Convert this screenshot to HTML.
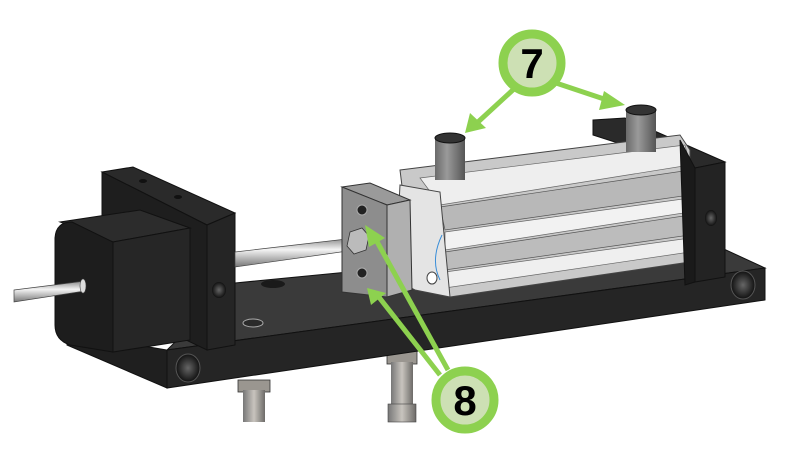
<!DOCTYPE html>
<html><head><meta charset="utf-8"><style>
html,body{margin:0;padding:0;background:#fff;width:793px;height:451px;overflow:hidden}
svg{display:block}
</style></head><body>
<svg width="793" height="451" viewBox="0 0 793 451" xmlns="http://www.w3.org/2000/svg">
<defs>
<linearGradient id="post" x1="0" x2="1"><stop offset="0" stop-color="#777"/><stop offset=".5" stop-color="#c8c4be"/><stop offset="1" stop-color="#6d6b68"/></linearGradient>
<linearGradient id="fit" x1="0" x2="1"><stop offset="0" stop-color="#6a6a6a"/><stop offset=".4" stop-color="#9a9a9a"/><stop offset="1" stop-color="#555"/></linearGradient>
<linearGradient id="rod" x1="0" y1="0" x2="0" y2="1"><stop offset="0" stop-color="#888"/><stop offset=".4" stop-color="#f4f4f4"/><stop offset="1" stop-color="#777"/></linearGradient>
<radialGradient id="hole"><stop offset="0" stop-color="#666"/><stop offset="1" stop-color="#111"/></radialGradient>
</defs>
<rect x="238" y="380" width="32" height="12" fill="#9a9690" stroke="#333" stroke-width=".8"/>
<rect x="243" y="390" width="22" height="32" fill="url(#post)"/>
<rect x="387" y="350" width="30" height="14" fill="#9a9690" stroke="#333" stroke-width=".8"/>
<rect x="391" y="362" width="22" height="42" fill="url(#post)"/>
<rect x="388" y="404" width="28" height="18" fill="url(#post)" stroke="#444" stroke-width=".6"/>
<polygon points="235,283 700,238 765,268 167,350" fill="#3a3a3a" stroke="#111" stroke-width="1"/>
<polygon points="167,350 765,268 765,300 167,388" fill="#252525" stroke="#111" stroke-width="1"/>
<polygon points="67,333 167,350 167,388 67,345" fill="#1f1f1f" stroke="#111"/>
<ellipse cx="188" cy="368" rx="12" ry="14" fill="url(#hole)" stroke="#555"/>
<ellipse cx="743" cy="285" rx="12" ry="14" fill="url(#hole)" stroke="#555"/>
<ellipse cx="273" cy="284" rx="12" ry="4" fill="#1a1a1a"/>
<ellipse cx="253" cy="323" rx="10" ry="4" fill="#2a2a2a" stroke="#aaa"/>
<polygon points="102,172 133,167 235,213 207,225" fill="#2a2a2a" stroke="#111"/>
<polygon points="102,172 207,225 207,350 102,300" fill="#1e1e1e" stroke="#111"/>
<polygon points="207,225 235,213 235,345 207,350" fill="#252525" stroke="#111"/>
<ellipse cx="219" cy="290" rx="7" ry="8" fill="url(#hole)"/>
<ellipse cx="143" cy="181" rx="4" ry="2" fill="#111"/>
<ellipse cx="178" cy="197" rx="4" ry="2" fill="#111"/>
<polygon points="60,222 140,210 190,228 113,242" fill="#2c2c2c" stroke="#111"/>
<polygon points="113,242 190,228 190,340 113,352" fill="#262626" stroke="#111"/>
<path d="M55,238 Q56,222 72,222 L113,242 L113,352 L70,345 Q55,340 55,325 Z" fill="#1d1d1d" stroke="#111"/>
<polygon points="14,290 85,281 85,291 14,302" fill="url(#rod)" stroke="#444" stroke-width=".7"/>
<ellipse cx="83" cy="286" rx="3" ry="7" fill="#ddd" stroke="#444" stroke-width=".6"/>
<polygon points="235,252 355,238 355,250 235,267" fill="url(#rod)" stroke="#444" stroke-width=".7"/>
<polygon points="593,120 625,118 725,162 695,168 593,135" fill="#2a2a2a" stroke="#111"/>
<polygon points="400,170 680,135 690,150 690,262 450,297 415,290" fill="#c9c9c9" stroke="#444"/>
<polygon points="420,178 685,145 690,165 440,205" fill="#eeeeee" stroke="#666" stroke-width=".7"/>
<polygon points="440,207 690,170 690,195 445,230" fill="#b8b8b8" stroke="#555" stroke-width=".7"/>
<polygon points="445,232 690,198 690,212 445,250" fill="#f2f2f2" stroke="#666" stroke-width=".7"/>
<polygon points="445,252 690,215 690,235 445,270" fill="#bcbcbc" stroke="#555" stroke-width=".7"/>
<polygon points="445,272 690,238 690,252 445,288" fill="#efefef" stroke="#666" stroke-width=".7"/>
<polygon points="400,185 440,192 450,297 415,290 395,280" fill="#e4e4e4" stroke="#444"/>
<path d="M442,235 Q430,260 440,280" stroke="#3a8ed8" fill="none" stroke-width="1"/>
<ellipse cx="432" cy="278" rx="5" ry="6" fill="#fff" stroke="#444"/>
<polygon points="695,168 725,162 725,277 695,282" fill="#232323" stroke="#111"/>
<polygon points="680,140 695,168 695,282 685,285" fill="#1a1a1a" stroke="#111"/>
<ellipse cx="711" cy="218" rx="6" ry="8" fill="url(#hole)"/>
<polygon points="342,187 370,183 410,200 387,205" fill="#9a9a9a" stroke="#333"/>
<polygon points="342,187 387,205 387,297 342,292" fill="#8d8d8d" stroke="#333"/>
<polygon points="387,205 410,200 412,290 387,297" fill="#b0b0b0" stroke="#333"/>
<circle cx="362" cy="210" r="5" fill="#222" stroke="#aaa"/>
<circle cx="362" cy="273" r="5" fill="#222" stroke="#aaa"/>
<polygon points="350,232 362,228 369,236 366,250 354,254 347,246" fill="#bbb" stroke="#333" stroke-width=".8"/>
<rect x="435" y="138" width="30" height="42" fill="url(#fit)"/>
<ellipse cx="450" cy="138" rx="15" ry="5" fill="#333" stroke="#111"/>
<rect x="626" y="110" width="30" height="42" fill="url(#fit)"/>
<ellipse cx="641" cy="110" rx="15" ry="5" fill="#333" stroke="#111"/>
<g stroke="#8dd14f" stroke-width="5" fill="none">
<line x1="515" y1="88" x2="478" y2="122"/>
<line x1="556" y1="83" x2="607" y2="100"/>
<line x1="448" y1="370" x2="375" y2="238"/>
<line x1="440" y1="375" x2="378" y2="296"/>
</g>
<g fill="#8dd14f">
<polygon points="465,133 470,113 486,128"/>
<polygon points="625,105 604,91 599,110"/>
<polygon points="365,225 369,247 385,238"/>
<polygon points="367,288 371,305 386,293"/>
</g>
<circle cx="532" cy="63" r="29" fill="#cde0b4" stroke="#8dd14f" stroke-width="9"/>
<text x="532" y="78" text-anchor="middle" font-family="Liberation Sans, sans-serif" font-weight="bold" font-size="42" fill="#000">7</text>
<circle cx="465" cy="400" r="29" fill="#cde0b4" stroke="#8dd14f" stroke-width="9"/>
<text x="465" y="415" text-anchor="middle" font-family="Liberation Sans, sans-serif" font-weight="bold" font-size="42" fill="#000">8</text>
</svg>
</body></html>
